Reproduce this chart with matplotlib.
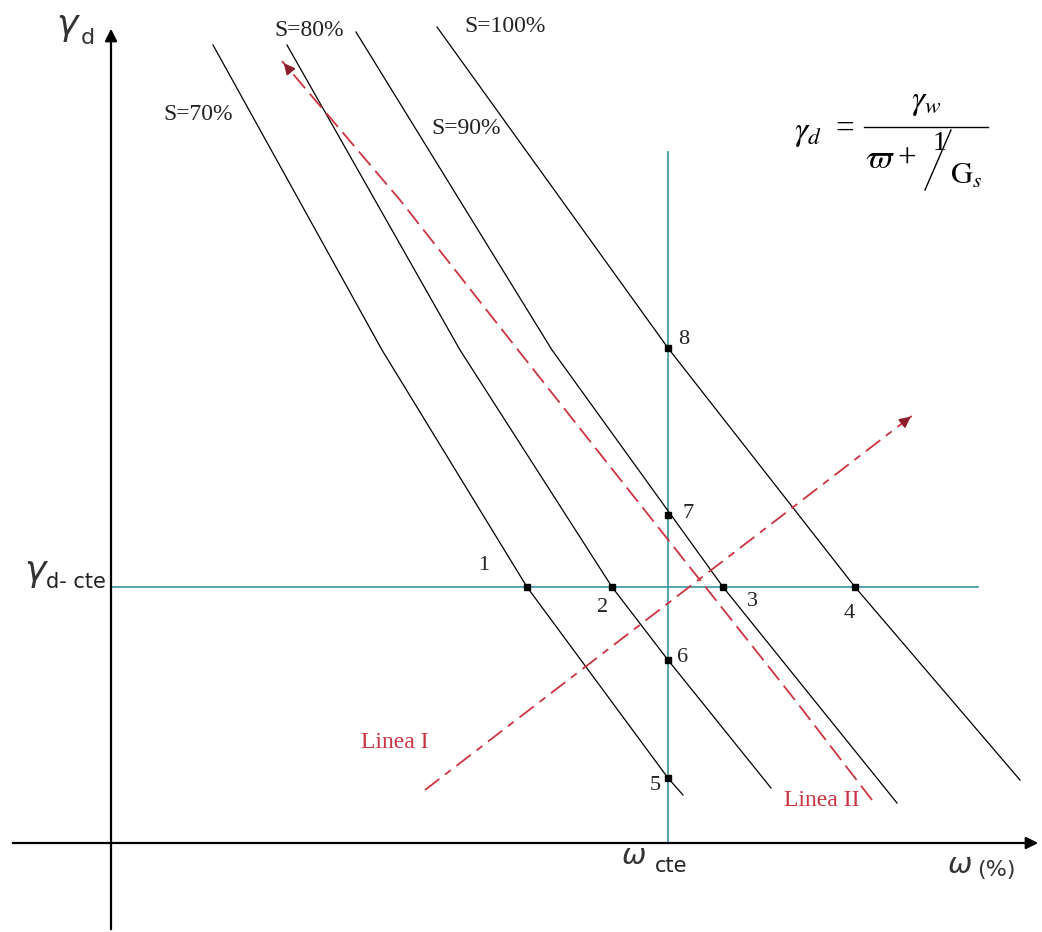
import matplotlib
matplotlib.use("Agg")
import matplotlib.pyplot as plt

plt.rcParams['font.family'] = ['Liberation Serif', 'DejaVu Sans']
plt.rcParams['mathtext.fontset'] = 'stix'

# saturation curves (pixel coords of the sketch)
sat_labels = ["S=70%", "S=80%", "S=90%", "S=100%"]
sat_x = [
    [213, 382, 527, 668, 683],
    [287, 460, 612, 668, 771],
    [356, 552, 723, 814, 897],
    [437, 668, 855, 1020],
]
sat_y = [
    [45, 350, 587, 778, 795],
    [45, 350, 587, 660, 788],
    [32, 350, 587, 700, 803],
    [27, 348, 587, 780],
]
sat_label_pos = [(198, 115), (309, 30), (466, 128), (505, 27)]

# numbered points on the constant lines
pt_names = ["1", "2", "3", "4", "5", "6", "7", "8"]
pt_x = [527, 612, 723, 855, 668, 668, 668, 668]
pt_y = [587, 587, 587, 587, 778, 660, 515, 348]
pt_label_x = [484, 603, 752, 849, 655, 683, 688, 684]
pt_label_y = [565, 608, 602, 614, 785, 658, 513, 340]

# constant water content / constant density
w_cte = 668
gd_cte = 587

# Linea I and Linea II (dashed red)
linea1_x = [425, 913]
linea1_y = [790, 415]
linea2_x = [872, 795, 597, 518, 400, 282]
linea2_y = [800, 700, 450, 350, 200, 61]

fig = plt.figure(figsize=(10.42, 9.32), dpi=100)
ax = fig.add_axes([0, 0, 1, 1])
ax.set_xlim(0, 1042)
ax.set_ylim(932, 0)
ax.axis('off')

# axes with arrows
ax.annotate('', xy=(111, 26), xytext=(111, 932),
            arrowprops=dict(arrowstyle='-|>', lw=1.6, color='k', mutation_scale=18))
ax.annotate('', xy=(1041, 843), xytext=(10, 843),
            arrowprops=dict(arrowstyle='-|>', lw=1.6, color='k', mutation_scale=18))

# constant lines
cyan = '#3a93a3'
ax.plot([w_cte, w_cte], [152, 843], color=cyan, lw=1.2)
ax.plot([111, 978], [gd_cte, gd_cte], color=cyan, lw=1.2)

# saturation curves
for xs, ys, lab, (lx, ly) in zip(sat_x, sat_y, sat_labels, sat_label_pos):
    ax.plot(xs, ys, color='k', lw=0.9)
    ax.text(lx, ly, lab, fontsize=17, ha='center', va='center', color='#222222')

# red dashed lines
red = '#cc3340'
ax.plot(linea1_x, linea1_y, color=red, lw=1.3, dashes=(10, 4, 4, 4))
ax.plot(linea2_x, linea2_y, color=red, lw=1.3, dashes=(10, 4))
ax.annotate('', xy=(linea1_x[-1], linea1_y[-1]), xytext=(linea1_x[-1] - 13, linea1_y[-1] + 10),
            arrowprops=dict(arrowstyle='-|>', lw=1.3, color='#8b1f2b', mutation_scale=16))
ax.annotate('', xy=(linea2_x[-1], linea2_y[-1]), xytext=(linea2_x[-1] + 10, linea2_y[-1] + 12),
            arrowprops=dict(arrowstyle='-|>', lw=1.3, color='#8b1f2b', mutation_scale=16))
ax.text(395, 742, "Linea I", color=red, fontsize=17, ha='center', va='center')
ax.text(822, 800, "Linea II", color=red, fontsize=17, ha='center', va='center')

# points
ax.plot(pt_x, pt_y, 's', color='k', ms=4.5, ls='none')
for n, lx, ly in zip(pt_names, pt_label_x, pt_label_y):
    ax.text(lx, ly, n, fontsize=16, ha='center', va='center', color='#222222')

# axis labels
ax.text(68, 28, r'$\gamma$', fontsize=26, ha='center', va='center',
        math_fontfamily='dejavusans', color='#333333')
ax.text(88, 38, 'd', fontsize=16, ha='center', va='center', family='DejaVu Sans', color='#333333')
ax.text(36, 574, r'$\gamma$', fontsize=26, ha='center', va='center',
        math_fontfamily='dejavusans', color='#333333')
ax.text(46, 582, 'd- cte', fontsize=15, ha='left', va='center', family='DejaVu Sans', color='#222222')
ax.text(634, 857, r'$\omega$', fontsize=21, ha='center', va='center',
        math_fontfamily='dejavusans', color='#333333')
ax.text(655, 866, 'cte', fontsize=15, ha='left', va='center', family='DejaVu Sans', color='#222222')
ax.text(960, 866, r'$\omega$', fontsize=21, ha='center', va='center',
        math_fontfamily='dejavusans', color='#333333')
ax.text(977, 870, '(%)', fontsize=16, ha='left', va='center', family='DejaVu Sans', color='#333333')

# formula, built from pieces: gamma_d = gamma_w / (w + 1/Gs)
ax.text(808, 134, r'$\gamma_d$', fontsize=24, ha='center', va='center')
ax.text(845, 130, '=', fontsize=24, ha='center', va='center')
ax.plot([864, 988], [127, 127], color='k', lw=1.0)
ax.text(926, 103, r'$\gamma_w$', fontsize=24, ha='center', va='center')
ax.text(880, 160, r'$\varpi$', fontsize=24, ha='center', va='center')
ax.text(907, 160, '+', fontsize=24, ha='center', va='center')
ax.text(940, 144, '1', fontsize=20, ha='center', va='center')
ax.plot([925, 951], [190, 130], color='k', lw=1.0)
ax.text(966, 176, r'$\mathrm{G}_s$', fontsize=22, ha='center', va='center')

fig.savefig('out.png', dpi=100)
